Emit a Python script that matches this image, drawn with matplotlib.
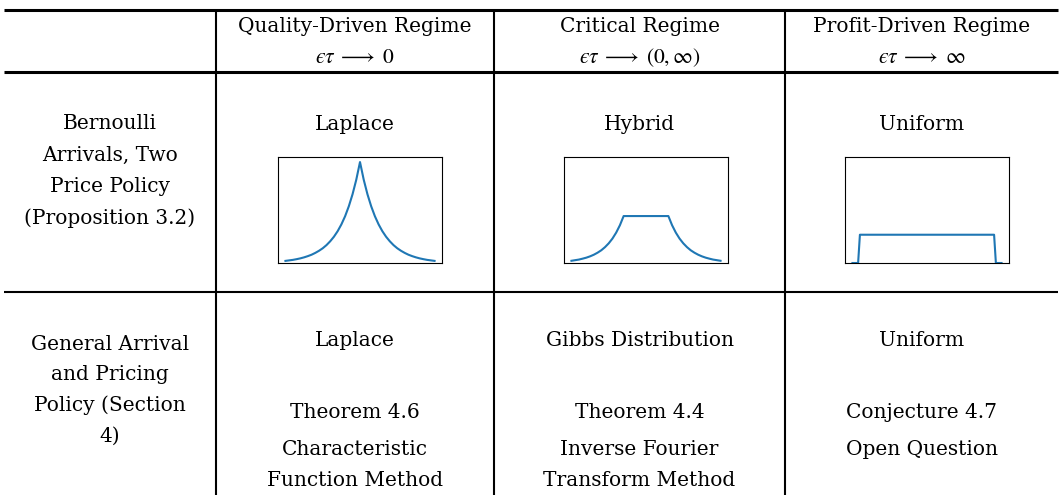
import matplotlib
matplotlib.use("Agg")
import matplotlib.pyplot as plt

plt.rcParams['font.family'] = ['DejaVu Serif']
plt.rcParams['mathtext.fontset'] = 'stix'

W, H = 1059, 495

# header texts
regimes = ["Quality-Driven Regime", "Critical Regime", "Profit-Driven Regime"]
limits = ["$\u03f5\\tau\\;\\longrightarrow\\;0$",
          "$\u03f5\\tau\\;\\longrightarrow\\;(0, \\infty)$",
          "$\u03f5\\tau\\;\\longrightarrow\\;\\infty$"]

# row labels
row1_label = ["Bernoulli", "Arrivals, Two", "Price Policy", "(Proposition 3.2)"]
row2_label = ["General Arrival", "and Pricing", "Policy (Section", "4)"]

# row 1 cell titles
row1_titles = ["Laplace", "Hybrid", "Uniform"]

# row 2 cells
row2_cells = [
    ["Laplace", "Theorem 4.6", "Characteristic", "Function Method"],
    ["Gibbs Distribution", "Theorem 4.4", "Inverse Fourier", "Transform Method"],
    ["Uniform", "Conjecture 4.7", "Open Question"],
]

# curves
laplace_x = [-5.0, -4.75, -4.5, -4.25, -4.0, -3.75, -3.5, -3.25, -3.0, -2.75,
             -2.5, -2.25, -2.0, -1.75, -1.5, -1.25, -1.0, -0.75, -0.5, -0.25,
             0.0, 0.25, 0.5, 0.75, 1.0, 1.25, 1.5, 1.75, 2.0, 2.25,
             2.5, 2.75, 3.0, 3.25, 3.5, 3.75, 4.0, 4.25, 4.5, 4.75, 5.0]
laplace_y = [0.021, 0.026, 0.031, 0.038, 0.046, 0.056, 0.068, 0.082, 0.100, 0.121,
             0.146, 0.177, 0.215, 0.260, 0.315, 0.382, 0.463, 0.562, 0.681, 0.825,
             1.000, 0.825, 0.681, 0.562, 0.463, 0.382, 0.315, 0.260, 0.215, 0.177,
             0.146, 0.121, 0.100, 0.082, 0.068, 0.056, 0.046, 0.038, 0.031, 0.026, 0.021]

hybrid_x = [-5.0, -4.75, -4.5, -4.25, -4.0, -3.75, -3.5, -3.25, -3.0, -2.75,
            -2.5, -2.25, -2.0, -1.75, -1.5, 1.5, 1.75, 2.0, 2.25, 2.5,
            2.75, 3.0, 3.25, 3.5, 3.75, 4.0, 4.25, 4.5, 4.75, 5.0]
hybrid_y = [0.022, 0.028, 0.034, 0.043, 0.053, 0.066, 0.082, 0.102, 0.126, 0.157,
            0.195, 0.242, 0.301, 0.374, 0.465, 0.465, 0.374, 0.301, 0.242, 0.195,
            0.157, 0.126, 0.102, 0.082, 0.066, 0.053, 0.043, 0.034, 0.028, 0.022]

uniform_x = [-5.0, -4.62, -4.5, 4.5, 4.62, 5.0]
uniform_y = [0.0, 0.0, 0.28, 0.28, 0.0, 0.0]

curves = [(laplace_x, laplace_y), (hybrid_x, hybrid_y), (uniform_x, uniform_y)]

fig = plt.figure(figsize=(W / 100, H / 100), dpi=100)
bg = fig.add_axes([0, 0, 1, 1])
bg.set_xlim(0, W)
bg.set_ylim(H, 0)
bg.axis('off')

col_edges = [4, 216, 494, 785, 1058]
col_mid = [(col_edges[i] + col_edges[i + 1]) / 2 for i in range(4)]

# rules
bg.plot([4, 1058], [9.5, 9.5], color='black', lw=2.2, solid_capstyle='butt')
bg.plot([4, 1058], [71.5, 71.5], color='black', lw=2.2, solid_capstyle='butt')
bg.plot([4, 1058], [292, 292], color='black', lw=1.5, solid_capstyle='butt')
for x in col_edges[1:4]:
    bg.plot([x, x], [11, H], color='black', lw=1.5, solid_capstyle='butt')

fs = 14.5
for i in range(3):
    bg.text(col_mid[i + 1], 32, regimes[i], ha='center', va='baseline', fontsize=fs)
    bg.text(col_mid[i + 1], 63, limits[i], ha='center', va='baseline', fontsize=fs + 1)

for k, line in enumerate(row1_label):
    bg.text(col_mid[0], 129 + 31.5 * k, line, ha='center', va='baseline', fontsize=fs)
for k, line in enumerate(row2_label):
    bg.text(col_mid[0], 350 + 30.5 * k, line, ha='center', va='baseline', fontsize=fs)

for i in range(3):
    bg.text(col_mid[i + 1], 130, row1_titles[i], ha='center', va='baseline', fontsize=fs)

row2_base = [346, 418, 455, 486]
for i, cell in enumerate(row2_cells):
    for k, line in enumerate(cell):
        bg.text(col_mid[i + 1], row2_base[k], line, ha='center', va='baseline', fontsize=fs)

# small plots
boxes = [(278, 157), (564, 157), (845, 157)]
bw, bh = 164, 106
for (x0, y0), (cx, cy) in zip(boxes, curves):
    ax = fig.add_axes([x0 / W, 1 - (y0 + bh) / H, bw / W, bh / H])
    ax.plot(cx, cy, color='#1f77b4', lw=1.5)
    ax.set_ylim(0, 1.05)
    ax.set_xticks([])
    ax.set_yticks([])

fig.savefig("out.png", dpi=100)
